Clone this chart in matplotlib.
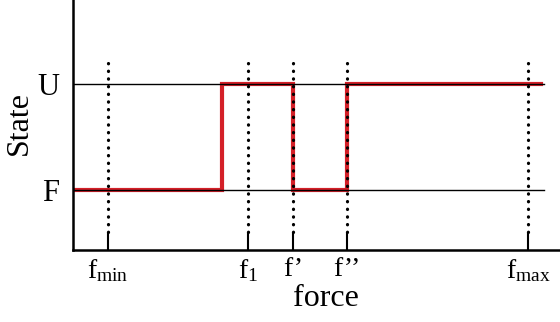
import matplotlib
matplotlib.use('Agg')
import matplotlib.pyplot as plt

plt.rcParams.update({
    'font.family': 'Liberation Serif',
    'mathtext.fontset': 'custom',
    'mathtext.rm': 'Liberation Serif',
    'mathtext.it': 'Liberation Serif:italic',
})

# force positions of the marked values (arbitrary units)
tick_forces = [7.2, 35.9, 45.2, 56.3, 93.4]
tick_labels = [r'f$_{\mathrm{min}}$', r'f$_{1}$', 'f\u2019', 'f\u2019\u2019', r'f$_{\mathrm{max}}$']

# state trace: F = 0, U = 1
state_force = [0.0, 30.6, 30.6, 45.2, 45.2, 56.3, 56.3, 96.1]
state_value = [0, 0, 1, 1, 0, 0, 1, 1]

state_levels = [0, 1]
state_names = ['F', 'U']

fig = plt.figure(figsize=(5.6, 3.22), dpi=100)
ax = fig.add_axes([0.1304, 0.2236, 0.8696, 0.776])
ax.set_xlim(0, 100)
ax.set_ylim(-0.566, 1.792)

# level lines
for lv in state_levels:
    ax.plot([0, 96.7], [lv, lv], color='black', lw=1.0, zorder=3)

# red state trace
ax.plot(state_force, state_value, color='#d42028', lw=3.0, zorder=2,
        solid_joinstyle='miter')

# dotted guide lines
for f in tick_forces:
    ax.plot([f, f], [-0.396, 1.21], color='black', lw=2.3,
            linestyle=(0, (0.1, 2.3)), dash_capstyle='round', zorder=4)

for s in ['top', 'right']:
    ax.spines[s].set_visible(False)
for s in ['left', 'bottom']:
    ax.spines[s].set_linewidth(1.8)

ax.set_xticks(tick_forces)
ax.set_xticklabels(tick_labels, fontsize=20)
ax.tick_params(axis='x', direction='in', length=13, width=1.5, pad=5)
ax.set_yticks(state_levels)
ax.set_yticklabels(state_names, fontsize=22)
ax.tick_params(axis='y', length=0, pad=10)

ax.set_xlabel('force', fontsize=23)
ax.xaxis.set_label_coords(0.52, -0.135, transform=ax.transAxes)
ax.xaxis.label.set_va('top')
ax.set_ylabel('State', fontsize=23)
ax.yaxis.set_label_coords(-0.11, 0.51, transform=ax.transAxes)
ax.yaxis.label.set_va('center')

fig.savefig('out.png', dpi=100)
